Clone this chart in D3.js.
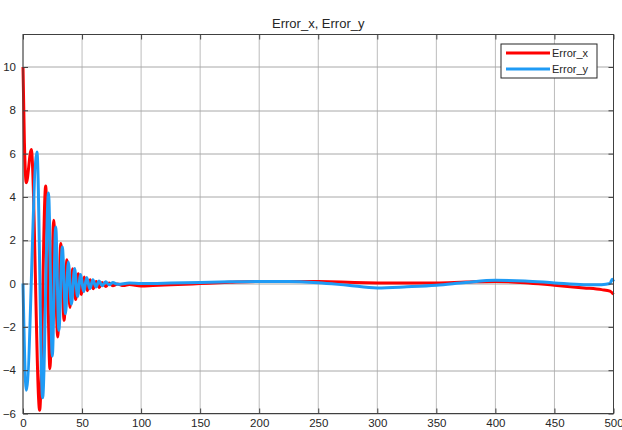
<!DOCTYPE html>
<html>
<head>
<meta charset="utf-8">
<script src="https://cdn.jsdelivr.net/npm/d3@7"></script>
<style>
    body { margin: 0; background: #fff; }
    text { font-family: "Liberation Sans", Arial, sans-serif; fill: #262626; }
</style>
</head>
<body>
<div id="chart"></div>
<script>
// Error_x: [t, value]
var errorX = [
    [0, 10], [1.2, 6.5], [2.8, 4.65], [7, 6.19], [14.1, -5.85], [19.2, 4.5],
    [22.8, -3.93], [26, 2.92], [29.4, -2.47], [32, 1.85], [34.8, -1.7],
    [37.2, 1.1], [39.8, -1.1], [42, 0.68], [44.6, -0.74], [46.8, 0.45],
    [49.4, -0.5], [51.8, 0.3], [54.4, -0.33], [56.8, 0.18], [59.4, -0.24],
    [62, 0.1], [64.6, -0.18], [67, 0.05], [70, -0.14], [73, 0.02], [76, -0.1],
    [80, -0.02], [85, -0.09], [90, -0.04], [100, -0.11], [110, -0.09],
    [125, -0.06], [150, 0], [175, 0.06], [200, 0.1], [225, 0.1], [250, 0.09],
    [275, 0.06], [300, 0.03], [325, 0.02], [350, 0.03], [375, 0.07],
    [400, 0.1], [425, 0.04], [450, -0.08], [475, -0.2], [490, -0.28],
    [497, -0.35], [500, -0.5]
];

// Error_y
var errorY = [
    [0, 0], [2.8, -4.93], [11.8, 6.08], [16.6, -5.27], [21.6, 4.18],
    [24.8, -3.35], [27.7, 2.61], [30.4, -2.16], [33.3, 1.69], [36, -1.39],
    [38.4, 1.0], [41, -0.95], [43.7, 0.69], [46.2, -0.6], [48.8, 0.42],
    [51.4, -0.38], [54, 0.28], [56.6, -0.24], [59.2, 0.18], [61.8, -0.16],
    [64.4, 0.12], [67, -0.1], [70, 0.08], [73, -0.06], [76, 0.05],
    [80, -0.03], [90, 0.02], [100, 0], [125, 0.02], [150, 0.05], [175, 0.08],
    [200, 0.1], [225, 0.1], [250, 0.04], [275, -0.08], [300, -0.2],
    [325, -0.15], [350, -0.08], [375, 0.05], [400, 0.15], [425, 0.12],
    [450, 0.03], [475, -0.05], [490, -0.05], [497, 0], [499, 0.2], [500, 0.1]
];

var xTicks = [0, 50, 100, 150, 200, 250, 300, 350, 400, 450, 500];
var yTicks = [-6, -4, -2, 0, 2, 4, 6, 8, 10];
var seriesNames = ["Error_x", "Error_y"];
var seriesColors = ["#ff0000", "#1f9bf5"];

var margin = { top: 34.5, right: 8.5, bottom: 16.5, left: 23 },
    width = 622 - margin.left - margin.right,
    height = 430 - margin.top - margin.bottom;

var svg = d3.select("#chart")
    .append("svg")
    .attr("width", 622)
    .attr("height", 430)
    .append("g")
    .attr("transform", "translate(" + margin.left + "," + margin.top + ")");

var x = d3.scaleLinear().domain([0, 500]).range([0, width]);
var y = d3.scaleLinear().domain([-6, 11.5]).range([height, 0]);

// grid
svg.append("g")
    .selectAll("line.vgrid")
    .data(xTicks)
    .enter()
    .append("line")
    .attr("x1", function (d) { return x(d); })
    .attr("x2", function (d) { return x(d); })
    .attr("y1", 0)
    .attr("y2", height)
    .attr("stroke", "#bcbcbc")
    .attr("stroke-width", 1);

svg.append("g")
    .selectAll("line.hgrid")
    .data(yTicks)
    .enter()
    .append("line")
    .attr("x1", 0)
    .attr("x2", width)
    .attr("y1", function (d) { return Math.round(y(d)) + 0.5; })
    .attr("y2", function (d) { return Math.round(y(d)) + 0.5; })
    .attr("stroke", "#a8a8a8")
    .attr("stroke-width", 1);

// lines
var line = d3.line()
    .x(function (d) { return x(d[0]); })
    .y(function (d) { return y(d[1]); })
    .curve(d3.curveMonotoneX);

[errorX, errorY].forEach(function (s, i) {
    svg.append("path")
        .datum(s)
        .attr("d", line)
        .attr("fill", "none")
        .attr("stroke", seriesColors[i])
        .attr("stroke-width", 3)
        .attr("stroke-linejoin", "round");
});

// axes with inward ticks on all sides
var tickStyle = function (g) {
    g.select(".domain").remove();
    g.selectAll(".tick line").attr("stroke", "#404040");
    g.selectAll(".tick text")
        .style("font-family", "Liberation Sans, Arial, sans-serif")
        .style("font-size", "11.5px")
        .attr("fill", "#262626");
};

svg.append("g")
    .attr("transform", "translate(0," + height + ")")
    .call(d3.axisBottom(x).tickValues(xTicks).tickSizeInner(-5).tickSizeOuter(0).tickPadding(5))
    .call(tickStyle);

svg.append("g")
    .call(d3.axisLeft(y).tickValues(yTicks).tickSizeInner(-5).tickSizeOuter(0).tickPadding(7))
    .call(tickStyle);

svg.append("g")
    .call(d3.axisTop(x).tickValues(xTicks).tickSizeInner(-5).tickSizeOuter(0).tickFormat(""))
    .call(tickStyle);

svg.append("g")
    .attr("transform", "translate(" + width + ",0)")
    .call(d3.axisRight(y).tickValues(yTicks).tickSizeInner(-5).tickSizeOuter(0).tickFormat(""))
    .call(tickStyle);

svg.append("rect")
    .attr("x", 0)
    .attr("y", 0)
    .attr("width", width)
    .attr("height", height)
    .attr("fill", "none")
    .attr("stroke", "#404040")
    .attr("stroke-width", 1);

// title
svg.append("text")
    .attr("x", width / 2)
    .attr("y", -7)
    .attr("text-anchor", "middle")
    .style("font-size", "13px")
    .text("Error_x, Error_y");

// legend
var legend = svg.append("g")
    .attr("transform", "translate(" + (501 - margin.left) + "," + (44 - margin.top) + ")");

legend.append("rect")
    .attr("width", 96)
    .attr("height", 34)
    .attr("fill", "#fff")
    .attr("stroke", "#262626")
    .attr("stroke-width", 1);

seriesNames.forEach(function (name, i) {
    legend.append("line")
        .attr("x1", 5)
        .attr("x2", 49)
        .attr("y1", 9 + i * 16)
        .attr("y2", 9 + i * 16)
        .attr("stroke", seriesColors[i])
        .attr("stroke-width", 3);
    legend.append("text")
        .attr("x", 51)
        .attr("y", 13 + i * 16)
        .style("font-size", "11px")
        .text(name);
});
</script>
</body>
</html>
